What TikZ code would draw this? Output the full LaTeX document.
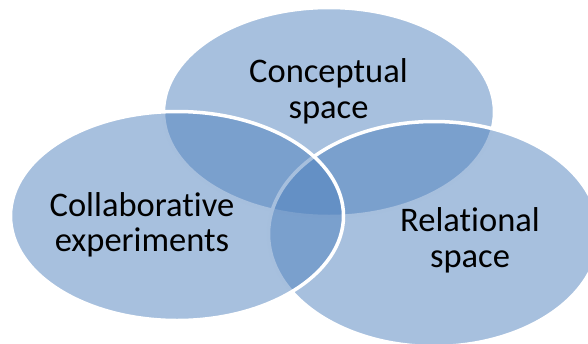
\documentclass[tikz,border=0pt]{standalone}
\usepackage{fontspec}
\setmainfont{Carlito}[Ligatures=NoCommon]
\usetikzlibrary{shapes.geometric}
\definecolor{vennblue}{RGB}{79,129,189}

\begin{document}
\begin{tikzpicture}[
		x=1pt, y=-1pt,
		venn/.style={ellipse, draw=white, line width=3.5pt, fill=vennblue, fill opacity=0.5, inner sep=0pt},
		venntext/.style={text opacity=1, align=center, anchor=base, font=\fontsize{34.5}{35.5}\selectfont},
		]
		\useasboundingbox (0,0) rectangle (588,343);
		\clip (0,0) rectangle (588,343);
		
		%ellipses
		\node[venn, minimum width=331pt, minimum height=209pt] (conceptual) at (329,112) {};
		\node[venn, minimum width=331pt, minimum height=225pt] (relational) at (434,234) {};
		\node[venn, minimum width=333pt, minimum height=209pt] (collab) at (177,216) {};
		
		%labels (base = last line)
		\node[venntext] (conceptualtext) at (328.5,118) {Conceptual\\space};
		\node[venntext] (collabtext) at (142,251.5) {Collaborative\\experiments};
		\node[venntext] (relationaltext) at (470,267) {Relational\\space};
	\end{tikzpicture}
\end{document}
